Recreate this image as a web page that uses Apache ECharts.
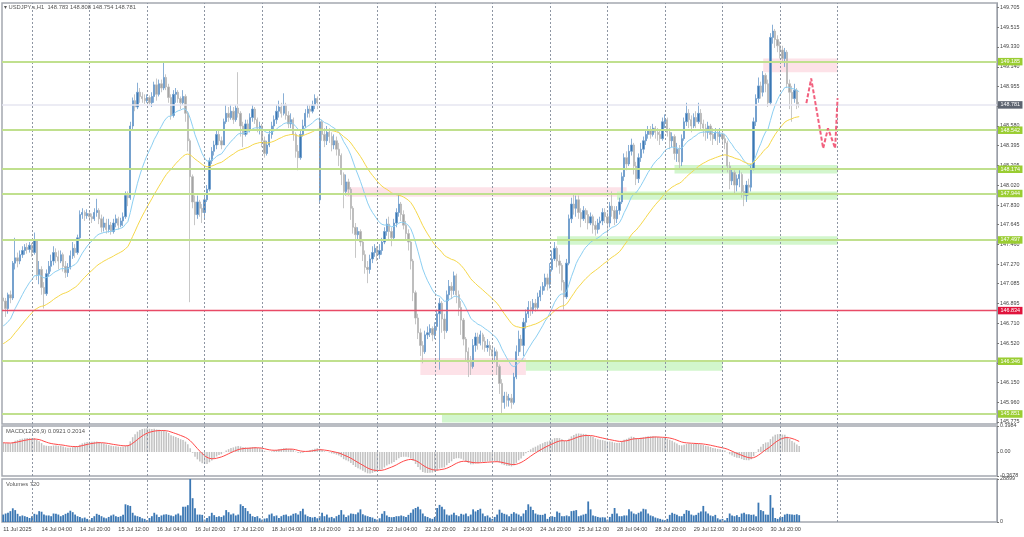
<!DOCTYPE html>
<html><head><meta charset="utf-8">
<script src="https://cdn.jsdelivr.net/npm/echarts@6/dist/echarts.min.js"></script>
<style>html,body{margin:0;padding:0;background:#fff}#c{width:1024px;height:537px}</style>
</head><body><div id="c"></div>
<script>
// ---- time axis labels (every 16 H1 bars) ----
const timeLabels = ['11 Jul 2025','14 Jul 04:00','14 Jul 20:00','15 Jul 12:00','16 Jul 04:00','16 Jul 20:00','17 Jul 12:00','18 Jul 04:00','18 Jul 20:00','21 Jul 12:00','22 Jul 04:00','22 Jul 20:00','23 Jul 12:00','24 Jul 04:00','24 Jul 20:00','25 Jul 12:00','28 Jul 04:00','28 Jul 20:00','29 Jul 12:00','30 Jul 04:00','30 Jul 20:00'];
const labelStep = 16;
const daySeparators = [12,36,60,84,108,132,156,180,204,228,252,276,300,324,348];
const slotCount = 415;

// ---- price axis tick labels ----
const priceTicks = [149.705,149.515,149.330,149.140,148.955,148.765,148.580,148.395,148.205,148.020,147.830,147.645,147.460,147.270,147.085,146.895,146.710,146.520,146.335,146.150,145.960,145.775];
const priceMin = 145.755, priceMax = 149.746;
const macdTicks = [0.3984, 0, -0.3678];
const macdTickLabels = ['0.3984','0.00','-0.3678'];
const volTicks = [28899, 0];

// ---- OHLC (USDJPY.s H1) ----
const opens = [
146.95,146.92,146.85,146.98,146.95,147.28,147.33,147.30,147.36,147.40,
147.43,147.41,147.45,147.38,147.50,147.17,147.22,147.05,146.99,147.18,
147.25,147.30,147.38,147.34,147.30,147.36,147.25,147.19,147.24,147.35,
147.42,147.38,147.52,147.74,147.76,147.73,147.75,147.72,147.70,147.76,
147.78,147.70,147.62,147.66,147.60,147.64,147.58,147.66,147.70,147.64,
147.68,147.72,147.92,147.90,148.58,148.82,148.76,148.90,148.86,148.84,
148.82,148.85,148.80,148.86,148.97,148.88,148.98,148.94,149.04,148.95,
148.85,148.68,148.88,148.90,148.84,148.80,148.86,148.70,148.44,148.10,
147.86,147.74,147.86,147.80,147.76,147.88,147.98,148.25,148.34,148.40,
148.50,148.44,148.40,148.62,148.70,148.66,148.72,148.64,148.75,148.70,
148.58,148.50,148.60,148.55,148.66,148.74,148.64,148.56,148.58,148.44,
148.32,148.40,148.50,148.58,148.64,148.72,148.76,148.70,148.78,148.68,
148.60,148.64,148.50,148.34,148.28,148.50,148.58,148.70,148.74,148.72,
148.78,148.84,147.88,148.62,148.50,148.44,148.52,148.48,148.40,148.44,
148.36,148.30,148.12,147.96,148.05,147.98,147.80,147.62,147.55,147.58,
147.48,147.36,147.24,147.22,147.32,147.38,147.42,147.36,147.40,147.48,
147.58,147.65,147.58,147.52,147.66,147.76,147.84,147.74,147.64,147.56,
147.48,147.30,147.00,146.76,146.62,146.50,146.44,146.60,146.62,146.66,
146.60,146.68,146.80,146.90,146.75,146.64,146.98,147.06,147.02,147.16,
146.98,146.86,146.74,146.56,146.44,146.34,146.30,146.50,146.58,146.52,
146.60,146.54,146.48,146.50,146.46,146.40,146.44,146.30,146.14,145.96,
146.02,145.98,146.00,145.96,146.20,146.44,146.56,146.50,146.72,146.80,
146.86,146.84,146.90,146.86,146.96,147.02,147.06,147.14,147.08,147.22,
147.32,147.42,147.30,147.26,147.10,146.96,147.28,147.70,147.84,147.80,
147.88,147.76,147.70,147.78,147.74,147.66,147.72,147.64,147.60,147.66,
147.68,147.76,147.72,147.66,147.82,147.78,147.70,147.78,147.86,148.10,
148.28,148.22,148.34,148.40,148.20,148.08,148.28,148.36,148.44,148.50,
148.54,148.50,148.56,148.52,148.50,148.46,148.62,148.64,148.52,148.44,
148.48,148.32,148.36,148.24,148.46,148.62,148.70,148.64,148.58,148.66,
148.62,148.70,148.60,148.56,148.52,148.58,148.50,148.46,148.52,148.48,
148.50,148.46,148.42,148.20,148.06,148.14,148.02,148.08,148.12,147.96,
147.92,148.02,148.00,148.18,148.62,148.84,148.96,148.90,149.06,148.98,
148.80,149.42,149.48,149.40,149.34,149.30,149.22,149.28,148.98,148.90,
148.84,148.92,148.783];
const highs = [
146.99,146.95,147.00,147.02,147.30,147.52,147.38,147.40,147.44,147.46,
147.47,147.48,147.47,147.57,147.50,147.30,147.25,147.10,147.22,147.30,
147.36,147.44,147.42,147.40,147.40,147.38,147.30,147.28,147.40,147.48,
147.46,147.55,147.78,147.80,147.78,147.79,147.77,147.75,147.80,147.89,
147.80,147.74,147.72,147.70,147.70,147.67,147.70,147.74,147.72,147.71,
147.76,147.96,147.96,148.62,148.85,148.88,148.99,148.94,148.90,148.88,
148.88,148.87,148.90,149.00,149.03,149.02,149.02,149.18,149.07,148.98,
148.88,148.92,148.94,148.92,148.86,148.92,148.88,148.72,148.46,148.12,
147.92,147.92,147.88,147.84,147.92,148.02,148.28,148.38,148.44,148.54,
148.55,148.48,148.65,148.78,148.76,148.78,148.76,148.78,149.09,148.72,
148.62,148.64,148.64,148.70,148.78,148.76,148.66,148.62,148.60,148.48,
148.44,148.54,148.62,148.68,148.78,148.82,148.80,148.89,148.80,148.72,
148.70,148.66,148.52,148.40,148.54,148.64,148.74,148.78,148.78,148.82,
148.88,148.86,148.66,148.64,148.56,148.58,148.56,148.52,148.50,148.48,
148.42,148.32,148.14,148.12,148.08,148.00,147.82,147.66,147.62,147.60,
147.50,147.40,147.30,147.36,147.44,147.46,147.44,147.46,147.52,147.62,
147.70,147.72,147.62,147.70,147.80,147.93,147.86,147.78,147.68,147.60,
147.50,147.32,147.02,146.80,146.66,146.54,146.64,146.68,146.70,146.68,
146.72,146.84,146.95,146.92,146.80,147.02,147.12,147.10,147.20,147.18,
147.02,146.92,146.76,146.58,146.48,146.40,146.56,146.62,146.62,146.64,
146.62,146.58,146.56,146.54,146.50,146.48,146.46,146.32,146.18,146.06,
146.06,146.04,146.04,146.24,146.50,146.64,146.60,146.76,146.84,146.92,
146.92,146.94,146.94,147.00,147.06,147.10,147.18,147.18,147.28,147.40,
147.48,147.44,147.36,147.28,147.12,147.32,147.74,147.90,147.94,147.92,
147.92,147.80,147.82,147.80,147.78,147.76,147.74,147.68,147.70,147.72,
147.80,147.80,147.76,147.86,147.96,147.82,147.82,147.90,148.14,148.32,
148.34,148.40,148.46,148.42,148.24,148.32,148.42,148.48,148.54,148.58,
148.58,148.60,148.58,148.56,148.54,148.66,148.69,148.66,148.56,148.52,
148.50,148.42,148.40,148.50,148.66,148.80,148.74,148.68,148.70,148.72,
148.80,148.74,148.64,148.60,148.62,148.60,148.56,148.56,148.54,148.56,
148.52,148.50,148.44,148.24,148.18,148.16,148.12,148.16,148.14,148.02,
148.06,148.08,148.22,148.66,148.88,149.04,149.00,149.10,149.08,149.02,
149.46,149.54,149.50,149.44,149.38,149.34,149.32,149.30,149.02,148.96,
148.98,148.94,148.808];
const lows = [
146.84,146.77,146.80,146.90,146.93,147.22,147.24,147.27,147.33,147.36,
147.37,147.38,147.34,147.36,147.12,147.08,146.98,146.85,146.97,147.15,
147.20,147.26,147.28,147.22,147.28,147.20,147.14,147.15,147.22,147.32,
147.33,147.36,147.50,147.70,147.68,147.70,147.68,147.66,147.68,147.72,
147.65,147.57,147.58,147.56,147.57,147.55,147.56,147.62,147.60,147.62,
147.63,147.70,147.82,147.88,148.55,148.72,148.74,148.80,148.80,148.79,
148.80,148.78,148.76,148.80,148.82,148.86,148.90,148.92,148.92,148.80,
148.64,148.66,148.80,148.80,148.74,148.78,148.62,148.34,146.91,147.80,
147.64,147.70,147.72,147.66,147.70,147.86,147.96,148.22,148.30,148.36,
148.40,148.36,148.40,148.60,148.62,148.64,148.60,148.62,148.66,148.48,
148.38,148.48,148.50,148.52,148.62,148.60,148.52,148.50,148.38,148.28,
148.30,148.38,148.46,148.54,148.60,148.66,148.66,148.68,148.64,148.56,
148.56,148.44,148.28,148.16,148.26,148.48,148.56,148.66,148.66,148.70,
148.74,148.74,147.86,148.44,148.38,148.40,148.42,148.34,148.36,148.30,
148.20,148.02,147.80,147.92,147.92,147.69,147.56,147.33,147.50,147.44,
147.30,147.18,147.09,147.18,147.28,147.34,147.30,147.32,147.36,147.46,
147.54,147.50,147.44,147.50,147.62,147.72,147.68,147.60,147.50,147.40,
147.22,146.92,146.70,146.56,146.40,146.33,146.42,146.56,146.58,146.54,
146.56,146.64,146.27,146.62,146.56,146.62,146.92,146.94,146.98,146.90,
146.78,146.60,146.50,146.36,146.20,146.22,146.28,146.44,146.46,146.50,
146.46,146.44,146.44,146.40,146.36,146.34,146.22,146.04,145.86,145.90,
145.92,145.92,145.90,145.94,146.18,146.40,146.44,146.40,146.66,146.76,
146.78,146.80,146.82,146.84,146.92,146.98,147.02,147.02,147.04,147.20,
147.30,147.24,147.18,147.02,146.84,146.94,147.26,147.66,147.74,147.72,
147.70,147.62,147.68,147.66,147.60,147.64,147.56,147.54,147.56,147.60,
147.64,147.66,147.56,147.62,147.72,147.64,147.66,147.74,147.84,148.06,
148.16,148.20,148.30,148.12,148.02,148.04,148.24,148.32,148.40,148.46,
148.46,148.48,148.46,148.44,148.40,148.44,148.56,148.48,148.36,148.38,
148.26,148.24,148.18,148.20,148.44,148.58,148.56,148.52,148.56,148.56,
148.60,148.54,148.48,148.44,148.46,148.44,148.40,148.44,148.40,148.42,
148.40,148.36,148.14,147.98,148.02,147.94,147.96,148.00,147.90,147.82,
147.86,147.92,147.96,148.16,148.58,148.80,148.84,148.86,148.90,148.76,
148.78,149.36,149.32,149.28,149.22,149.18,149.14,148.94,148.74,148.62,
148.80,148.74,148.754];
const closes = [
146.92,146.85,146.98,146.95,147.28,147.33,147.30,147.36,147.40,147.43,
147.41,147.45,147.38,147.50,147.17,147.22,147.05,146.99,147.18,147.25,
147.30,147.38,147.34,147.30,147.36,147.25,147.19,147.24,147.35,147.42,
147.38,147.52,147.74,147.76,147.73,147.75,147.72,147.70,147.76,147.78,
147.70,147.62,147.66,147.60,147.64,147.58,147.66,147.70,147.64,147.68,
147.72,147.92,147.90,148.58,148.82,148.76,148.90,148.86,148.84,148.82,
148.85,148.80,148.86,148.97,148.88,148.98,148.94,149.04,148.95,148.85,
148.68,148.88,148.90,148.84,148.80,148.86,148.70,148.44,148.10,147.86,
147.74,147.86,147.80,147.76,147.88,147.98,148.25,148.34,148.40,148.50,
148.44,148.40,148.62,148.70,148.66,148.72,148.64,148.75,148.70,148.58,
148.50,148.60,148.55,148.66,148.74,148.64,148.56,148.58,148.44,148.32,
148.40,148.50,148.58,148.64,148.72,148.76,148.70,148.78,148.68,148.60,
148.64,148.50,148.34,148.28,148.50,148.58,148.70,148.74,148.72,148.78,
148.84,148.80,148.62,148.50,148.44,148.52,148.48,148.40,148.44,148.36,
148.30,148.12,147.96,148.05,147.98,147.80,147.62,147.55,147.58,147.48,
147.36,147.24,147.22,147.32,147.38,147.42,147.36,147.40,147.48,147.58,
147.65,147.58,147.52,147.66,147.76,147.84,147.74,147.64,147.56,147.48,
147.30,147.00,146.76,146.62,146.50,146.44,146.60,146.62,146.66,146.60,
146.68,146.80,146.90,146.75,146.64,146.98,147.06,147.02,147.16,146.98,
146.86,146.74,146.56,146.44,146.34,146.30,146.50,146.58,146.52,146.60,
146.54,146.48,146.50,146.46,146.40,146.44,146.30,146.14,145.96,146.02,
145.98,146.00,145.96,146.20,146.44,146.56,146.50,146.72,146.80,146.86,
146.84,146.90,146.86,146.96,147.02,147.06,147.14,147.08,147.22,147.32,
147.42,147.30,147.26,147.10,146.96,147.28,147.70,147.84,147.80,147.88,
147.76,147.70,147.78,147.74,147.66,147.72,147.64,147.60,147.66,147.68,
147.76,147.72,147.66,147.82,147.78,147.70,147.78,147.86,148.10,148.28,
148.22,148.34,148.40,148.20,148.08,148.28,148.36,148.44,148.50,148.54,
148.50,148.56,148.52,148.50,148.46,148.62,148.64,148.52,148.44,148.48,
148.32,148.36,148.24,148.46,148.62,148.70,148.64,148.58,148.66,148.62,
148.70,148.60,148.56,148.52,148.58,148.50,148.46,148.52,148.48,148.50,
148.46,148.42,148.20,148.06,148.14,148.02,148.08,148.12,147.96,147.92,
148.02,148.00,148.18,148.62,148.84,148.96,148.90,149.06,148.98,148.80,
149.42,149.48,149.40,149.34,149.30,149.22,149.28,148.98,148.90,148.84,
148.92,148.78,148.781];
const volumes = [
5000,5700,6200,7300,9200,8000,5500,3900,4400,3900,
3400,2700,3900,5500,5000,7300,6900,5000,4400,4400,
3900,5700,5500,5000,3900,4600,5500,6200,7600,6600,
5000,3900,3400,2500,3000,2100,1600,2700,3900,5500,
4800,3900,3000,2500,3400,4400,5000,3900,3400,3900,
4800,11900,11300,10800,6200,4400,3900,3400,2500,2100,
1100,2700,3900,6200,5000,3400,4400,5000,5200,4800,
4400,3900,5000,5700,4400,10300,10300,11300,28899,16000,
9200,5000,5000,4800,1600,2700,3900,6200,4600,3400,
3900,3400,4400,8000,6600,5000,5700,4400,5000,11900,
10800,9400,7300,5500,3900,3400,3900,2500,1600,2300,
2500,5000,5700,3900,4400,2700,3900,4800,5000,3900,
4400,5500,5900,5000,7300,8900,5000,3900,3400,3000,
3400,2500,3900,6200,3900,5000,3000,3400,2500,3900,
4800,8000,5000,3400,4400,5700,5500,5200,6400,8500,
5200,4400,3900,3400,3000,2100,1600,2500,5500,7300,
4400,3400,3200,3400,3900,3900,4400,3900,3400,4800,
6200,8500,9400,10300,8500,5700,3900,3400,2500,2100,
3400,9400,11500,10300,8500,5000,4400,5000,6200,4600,
3900,5500,5000,5700,3900,5000,8500,7100,8000,8900,
5700,3900,4400,3000,2100,3400,5000,8300,6200,5500,
5000,3900,5500,6600,5700,5000,3900,5700,8000,11900,
10300,8000,5700,5000,4800,4800,5500,2100,3400,3900,
3400,7100,6200,3900,3900,4400,3900,7300,7600,8000,
3900,4400,5000,5500,13800,8500,4400,3900,3400,3000,
3200,3000,1600,3400,5500,9400,5700,3900,3900,4400,
4400,8500,7100,5700,5200,6200,7100,8900,8500,5700,
4400,3900,3000,2500,2100,1600,1100,2100,4800,6200,
5500,4800,3900,3900,5500,8000,7600,5000,4400,4800,
6200,7100,10800,7100,5700,4400,3900,4800,2500,1600,
2100,1100,2700,5700,4400,3900,4600,3400,5700,6200,
5200,5200,4800,5000,3900,13000,8000,7300,5000,4800,
18100,9600,2700,2100,3200,3400,5000,5500,5200,5000,
4800,5200,4600];

// ---- levels and zones ----
const greenLevels = [149.185,148.542,148.174,147.944,147.497,146.346,145.851];
const redLevel = 146.834;
const lastPrice = 148.781;
const zoneStart  = [317,143,256,280,231,174,218,183];
const zoneEnd    = [348,260,348,348,348,218,300,300];
const zoneTop    = [149.22,148.00,147.96,148.21,147.535,146.38,146.355,145.855];
const zoneBottom = [149.09,147.91,147.88,148.13,147.455,146.22,146.26,145.77];
const zoneKind   = ['sell','sell','buy','buy','buy','sell','buy','buy'];

// ---- forecast path ----
const forecastIdx = [335,337,342,344,347,348];
const forecastPrice = [148.797,149.03,148.369,148.558,148.369,148.843];

// ---- indicator settings / initial states ----
const emaFastPeriod = 20, emaSlowPeriod = 50;
const emaFastSeed = 146.66, emaSlowSeed = 146.50;
const macdFastSeed = 146.84, macdSlowSeed = 146.69, macdSignalSeed = 0.14;

function ema(src, period, seed){ const k = 2/(period+1); let e = seed; return src.map(c => { e = e + k*(c-e); return +e.toFixed(4); }); }
const emaFast = ema(closes, emaFastPeriod, emaFastSeed);
const emaSlow = ema(closes, emaSlowPeriod, emaSlowSeed);
const e12 = ema(closes, 12, macdFastSeed), e26 = ema(closes, 26, macdSlowSeed);
const macdMain = e12.map((v,i)=> +(v - e26[i]).toFixed(4));
const macdSignal = ema(macdMain, 9, macdSignalSeed);

const cats = Array.from({length: slotCount}, (_, i) => String(i));
const candleData = opens.map((o,i)=>[o, closes[i], lows[i], highs[i]]);
const FONT = 'Liberation Sans';
const sepLines = daySeparators.map(x => ({xAxis: x}));
const sepMark = {silent:true, symbol:['none','none'], label:{show:false},
  lineStyle:{color:'#8e96a3', type:[2,2], width:1}, data: sepLines, animation:false};

const chart = echarts.init(document.getElementById('c'), null, {renderer:'canvas'});
const levelLabel = (bg) => ({show:true, position:'end', distance:1, color:'#fff', fontSize:5.4, fontFamily:FONT,
  backgroundColor:bg, padding:[1.5,2.5,1,2.5]});

const option = {
  animation:false,
  backgroundColor:'#ffffff',
  grid:[
    {left:2, right:27, top:3, height:421, show:true, borderColor:'#a4a8b0', borderWidth:1.5},
    {left:2, right:27, top:426, height:50, show:true, borderColor:'#a4a8b0', borderWidth:1.5},
    {left:2, right:27, top:479, height:43, show:true, borderColor:'#a4a8b0', borderWidth:1.5}
  ],
  xAxis:[0,1,2].map(g => ({
    type:'category', gridIndex:g, data:cats, boundaryGap:true,
    axisLine:{show:false}, axisTick:{show:false}, splitLine:{show:false},
    axisLabel: g===2 ? {
      show:true, interval:(idx)=> idx % labelStep === 0 && idx/labelStep < timeLabels.length,
      formatter:(v)=> timeLabels[Number(v)/labelStep] || '',
      align:'left', fontSize:5.6, fontFamily:FONT, color:'#444', margin:4
    } : {show:false}
  })),
  yAxis:[
    {type:'value', gridIndex:0, position:'right', min:priceMin, max:priceMax, scale:true,
     axisLine:{show:true, lineStyle:{color:'#9a9ea6'}},
     axisTick:{show:true, length:2, customValues:priceTicks, lineStyle:{color:'#777'}},
     axisLabel:{show:true, customValues:priceTicks, formatter:(v)=>Number(v).toFixed(3), fontSize:5.4, fontFamily:FONT, color:'#444', margin:3, showMinLabel:true, showMaxLabel:true},
     splitLine:{show:false}},
    {type:'value', gridIndex:1, position:'right', min:macdTicks[2], max:macdTicks[0],
     axisLine:{show:true, lineStyle:{color:'#9a9ea6'}},
     axisTick:{show:true, length:2, customValues:macdTicks, lineStyle:{color:'#777'}},
     axisLabel:{show:true, customValues:macdTicks, formatter:(v)=>{const k = macdTicks.findIndex(t=>Math.abs(t-v)<1e-6); return k>=0?macdTickLabels[k]:'';}, fontSize:5.4, fontFamily:FONT, color:'#444', margin:3, showMinLabel:true, showMaxLabel:true},
     splitLine:{show:false}},
    {type:'value', gridIndex:2, position:'right', min:0, max:volTicks[0],
     axisLine:{show:true, lineStyle:{color:'#9a9ea6'}},
     axisTick:{show:true, length:2, customValues:volTicks, lineStyle:{color:'#777'}},
     axisLabel:{show:true, customValues:volTicks, formatter:(v)=>String(Math.round(v)), fontSize:5.4, fontFamily:FONT, color:'#444', margin:3, showMinLabel:true, showMaxLabel:true},
     splitLine:{show:false}}
  ],
  graphic:[
    {type:'text', left:4, top:4, z:100, style:{text:'\u25BE USDJPY.s,H1  148.783 148.808 148.754 148.781', font:'5.8px "Liberation Sans", "DejaVu Sans"', fill:'#555'}},
    {type:'text', left:6, top:428, z:100, style:{text:'MACD(12,26,9) 0.0921 0.2014', font:'5.8px "Liberation Sans"', fill:'#555'}},
    {type:'text', left:6, top:481, z:100, style:{text:'Volumes 720', font:'5.8px "Liberation Sans"', fill:'#555'}}
  ],
  series:[
    { // zones + day separators (background)
      type:'line', xAxisIndex:0, yAxisIndex:0, data:cats.map(()=>null), z:1, clip:false, silent:true,
      markArea:{silent:true, data: zoneStart.map((s,k)=>[
        {xAxis:s, yAxis:zoneTop[k], itemStyle:{color: zoneKind[k]==='sell' ? '#fde2e8' : '#d2f6cd'}},
        {xAxis:zoneEnd[k], yAxis:zoneBottom[k]}
      ])},
      markLine: sepMark
    },
    { // horizontal levels
      type:'line', xAxisIndex:0, yAxisIndex:0, data:cats.map(()=>null), z:2, clip:false, silent:true,
      markLine:{silent:true, symbol:['none','none'], animation:false,
        data: [
          {yAxis:lastPrice, lineStyle:{color:'#e6e6f1', width:1.5, type:'solid'}, label:Object.assign(levelLabel('#5d6470'), {formatter: lastPrice.toFixed(3)})},
          ...greenLevels.map(v => ({yAxis:v, lineStyle:{color:'#c0e08e', width:2, type:'solid'}, label:Object.assign(levelLabel('#9acd32'), {formatter: v.toFixed(3)})})),
          {yAxis:redLevel, lineStyle:{color:'#e84a66', width:1.3, type:'solid'}, label:Object.assign(levelLabel('#e0143c'), {formatter: redLevel.toFixed(3)})}
        ]}
    },
    {
      type:'candlestick', xAxisIndex:0, yAxisIndex:0, data:candleData, z:3, barWidth:1.8,
      itemStyle:{color:'#3a77b2', color0:'#a4a4a4', borderColor:'#6b9acb', borderColor0:'#b9b9b9', borderWidth:0.8}
    },
    {type:'line', xAxisIndex:0, yAxisIndex:0, data:emaFast, showSymbol:false, symbol:'none', z:4,
     lineStyle:{color:'#8ccff2', width:1}},
    {type:'line', xAxisIndex:0, yAxisIndex:0, data:emaSlow, showSymbol:false, symbol:'none', z:4,
     lineStyle:{color:'#f6d84a', width:1}},
    {type:'line', xAxisIndex:0, yAxisIndex:0, data:forecastIdx.map((x,k)=>[x, forecastPrice[k]]), showSymbol:false, symbol:'none', z:5,
     lineStyle:{color:'#f2607e', width:2, type:[4,2]}},
    {type:'bar', xAxisIndex:1, yAxisIndex:1, data:macdMain, barWidth:1.5, z:3,
     itemStyle:{color:'#c2c2c2'}, markLine: sepMark},
    {type:'line', xAxisIndex:1, yAxisIndex:1, data:macdSignal, showSymbol:false, symbol:'none', z:4,
     lineStyle:{color:'#ff4747', width:1}},
    {type:'bar', xAxisIndex:2, yAxisIndex:2, data:volumes, barWidth:1.8, z:3,
     itemStyle:{color:'#3b77b3'}, markLine: sepMark}
  ]
};
chart.setOption(option);
</script>
</body></html>
